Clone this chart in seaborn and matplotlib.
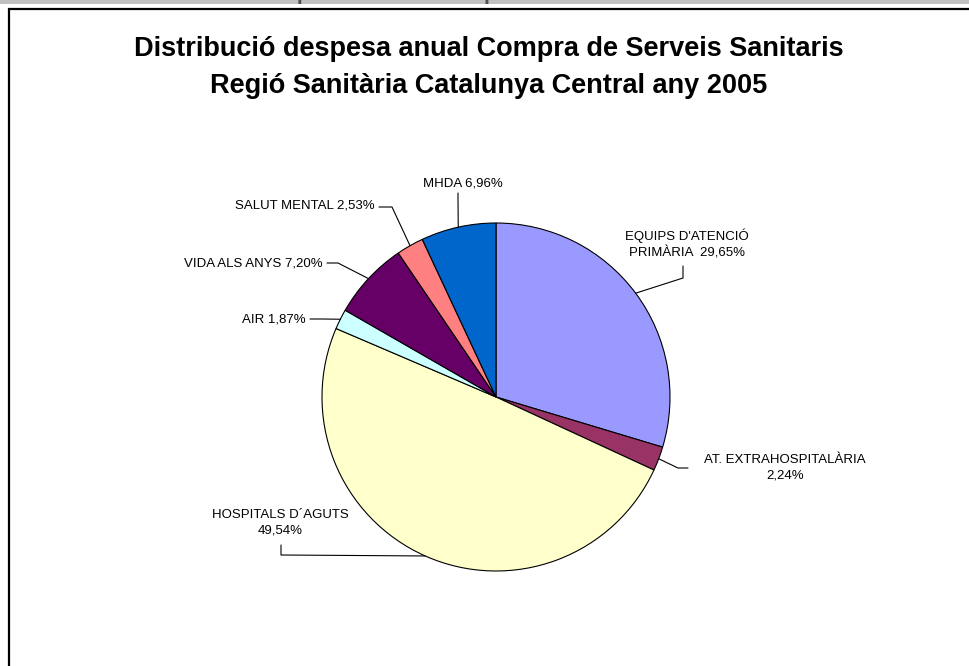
import numpy as np
import matplotlib
matplotlib.use("Agg")
import matplotlib.pyplot as plt
from matplotlib.patches import Rectangle
from matplotlib.lines import Line2D
import seaborn as sns

# Annual spending shares (%) by service line, clockwise from 12 o'clock
categories = [
    "EQUIPS D'ATENCIÓ\nPRIMÀRIA  29,65%",
    "AT. EXTRAHOSPITALÀRIA\n2,24%",
    "HOSPITALS D´AGUTS\n49,54%",
    "AIR 1,87%",
    "VIDA ALS ANYS 7,20%",
    "SALUT MENTAL 2,53%",
    "MHDA 6,96%",
]
shares = [29.65, 2.24, 49.54, 1.87, 7.20, 2.53, 6.96]
colors = ["#9999FF", "#993366", "#FFFFCC", "#CCFFFF", "#660066", "#FF8080", "#0066CC"]

title_lines = [
    "Distribució despesa anual Compra de Serveis Sanitaris",
    "Regió Sanitària Catalunya Central any 2005",
]
header_text = "Distribució de la despesa anual de compra de serveis"

sns.set_theme(style="white")
plt.rcParams["font.family"] = ["Liberation Sans", "DejaVu Sans"]

W, H, DPI = 969, 666, 100
fig = plt.figure(figsize=(W / DPI, H / DPI), dpi=DPI)
fig.patch.set_facecolor("white")

# axes fills the figure; one data unit equals the pie radius (174 px)
R = 174.0
cx, cy = 496.0, 397.0
ax = fig.add_axes([0, 0, 1, 1])

wedges, _ = ax.pie(
    shares, colors=colors, startangle=90, counterclock=False, radius=1.0,
    wedgeprops=dict(edgecolor="black", linewidth=0.8),
)
ax.set_xlim(-cx / R, (W - cx) / R)
ax.set_ylim(-(H - cy) / R, cy / R)
ax.set_aspect("equal")
ax.axis("off")

def px(x, y):
    """pixel position -> data coordinates"""
    return ((x - cx) / R, (cy - y) / R)

# label text centre and leader elbow points (pixels), per wedge
label_layout = [
    dict(text=(687, 244), elbow=[(683, 266), (683, 278)], ha="center"),
    dict(text=(785, 468), elbow=[(688, 468), (678, 468)], ha="center"),
    dict(text=(280, 523), elbow=[(281, 545), (281, 555)], ha="center"),
    dict(text=(306, 319), elbow=[(310, 319), (322, 319)], ha="right"),
    dict(text=(323, 263), elbow=[(327, 263), (338, 263)], ha="right"),
    dict(text=(375, 206), elbow=[(379, 207), (392, 207)], ha="right"),
    dict(text=(463, 183), elbow=[(458, 193), (458, 198)], ha="center"),
]

for w, lab, lay in zip(wedges, categories, label_layout):
    mid = np.deg2rad((w.theta1 + w.theta2) / 2.0)
    anchor = (np.cos(mid), np.sin(mid))
    tx, ty = px(*lay["text"])
    ax.text(tx, ty, lab, ha=lay["ha"], va="center", fontsize=9.5,
            color="black", linespacing=1.4)
    pts = [px(*p) for p in lay["elbow"]] + [anchor]
    xs, ys = zip(*pts)
    ax.add_line(Line2D(xs, ys, color="black", linewidth=0.8))

# chart title
fig.text(489 / W, 1 - 56 / H, title_lines[0], ha="center", va="baseline",
         fontsize=19.5, fontweight="bold", color="black")
fig.text(489 / W, 1 - 93 / H, title_lines[1], ha="center", va="baseline",
         fontsize=19.5, fontweight="bold", color="black")

# header band above the chart frame
fig.add_artist(Rectangle((0, 1 - 4 / H), 1, 4 / H, transform=fig.transFigure,
                         facecolor="#C0C0C0", edgecolor="none", zorder=0))
fig.text(358 / W, 1 - 0.5 / H, header_text, ha="center", va="baseline",
         fontsize=15, fontweight="bold", color="#505050")

# chart frame
fig.add_artist(Rectangle((9 / W, -0.1), 1.2, 1 - 9 / H + 0.1,
                         transform=fig.transFigure, facecolor="none",
                         edgecolor="black", linewidth=1.6, zorder=5))

fig.savefig("out.png", dpi=DPI, facecolor="white")
